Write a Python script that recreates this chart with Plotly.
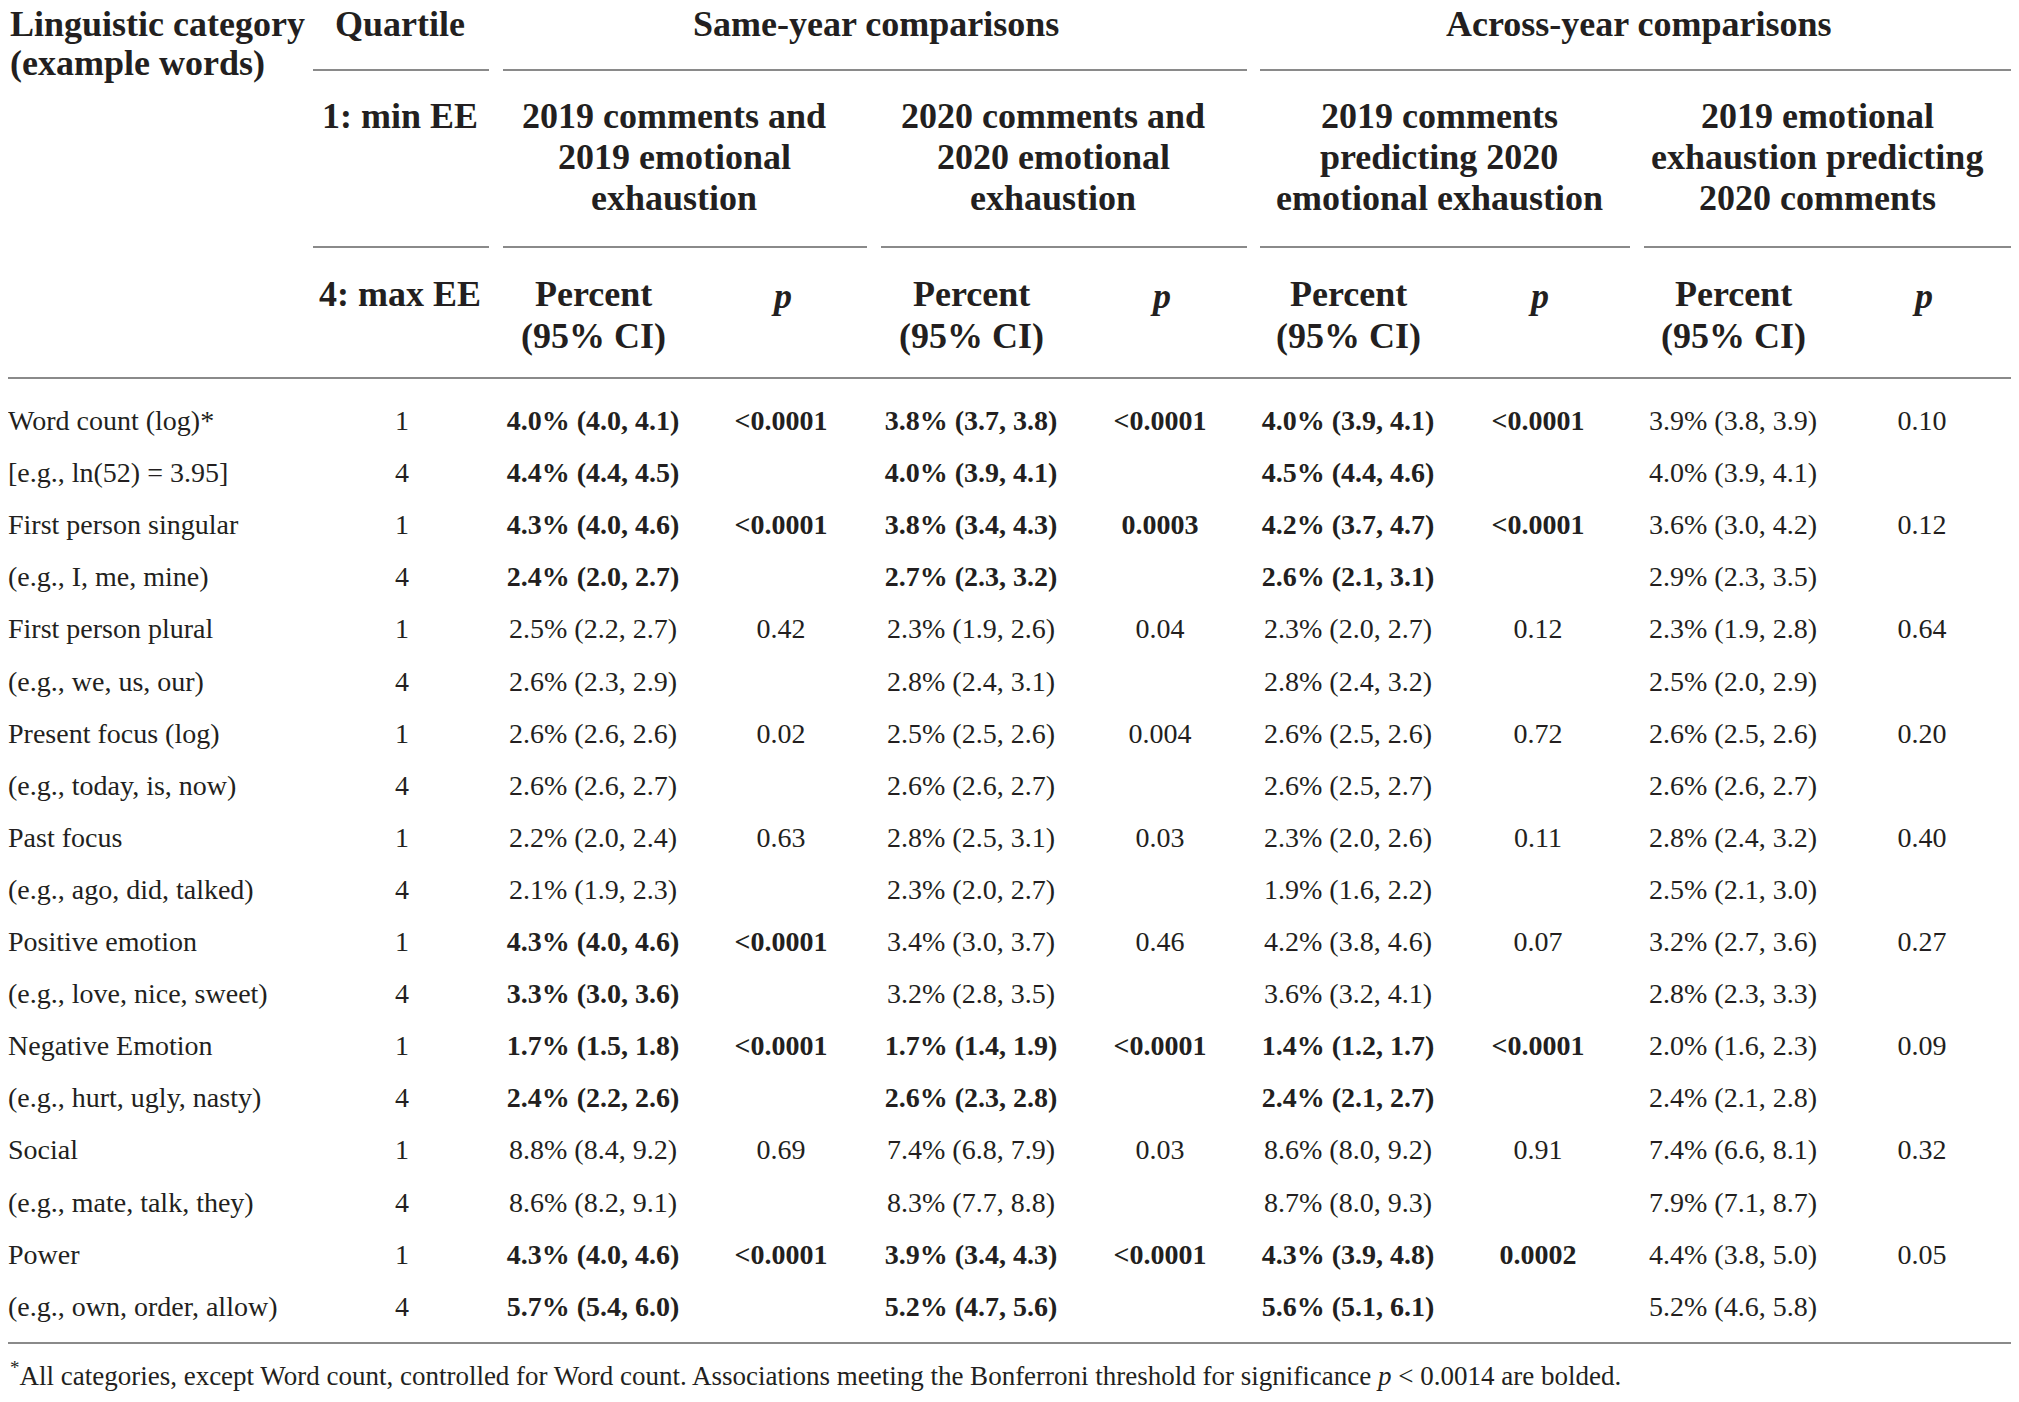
"""
Table: LIWC categories by emotional-exhaustion quartile, drawn with Plotly text traces
"""
import plotly.graph_objs as go

# ---- data --------------------------------------------------------------
categories = ["Word count (log)*", "First person singular", "First person plural",
              "Present focus (log)", "Past focus", "Positive emotion",
              "Negative Emotion", "Social", "Power"]
examples = ["[e.g., ln(52) = 3.95]", "(e.g., I, me, mine)", "(e.g., we, us, our)",
            "(e.g., today, is, now)", "(e.g., ago, did, talked)", "(e.g., love, nice, sweet)",
            "(e.g., hurt, ugly, nasty)", "(e.g., mate, talk, they)", "(e.g., own, order, allow)"]
quartiles = [1, 4]

# same-year: 2019 comments and 2019 emotional exhaustion
sy19_q1 = [(4.0, 4.0, 4.1), (4.3, 4.0, 4.6), (2.5, 2.2, 2.7), (2.6, 2.6, 2.6), (2.2, 2.0, 2.4),
           (4.3, 4.0, 4.6), (1.7, 1.5, 1.8), (8.8, 8.4, 9.2), (4.3, 4.0, 4.6)]
sy19_q4 = [(4.4, 4.4, 4.5), (2.4, 2.0, 2.7), (2.6, 2.3, 2.9), (2.6, 2.6, 2.7), (2.1, 1.9, 2.3),
           (3.3, 3.0, 3.6), (2.4, 2.2, 2.6), (8.6, 8.2, 9.1), (5.7, 5.4, 6.0)]
sy19_p = ["<0.0001", "<0.0001", "0.42", "0.02", "0.63", "<0.0001", "<0.0001", "0.69", "<0.0001"]

# same-year: 2020 comments and 2020 emotional exhaustion
sy20_q1 = [(3.8, 3.7, 3.8), (3.8, 3.4, 4.3), (2.3, 1.9, 2.6), (2.5, 2.5, 2.6), (2.8, 2.5, 3.1),
           (3.4, 3.0, 3.7), (1.7, 1.4, 1.9), (7.4, 6.8, 7.9), (3.9, 3.4, 4.3)]
sy20_q4 = [(4.0, 3.9, 4.1), (2.7, 2.3, 3.2), (2.8, 2.4, 3.1), (2.6, 2.6, 2.7), (2.3, 2.0, 2.7),
           (3.2, 2.8, 3.5), (2.6, 2.3, 2.8), (8.3, 7.7, 8.8), (5.2, 4.7, 5.6)]
sy20_p = ["<0.0001", "0.0003", "0.04", "0.004", "0.03", "0.46", "<0.0001", "0.03", "<0.0001"]

# across-year: 2019 comments predicting 2020 emotional exhaustion
ayc_q1 = [(4.0, 3.9, 4.1), (4.2, 3.7, 4.7), (2.3, 2.0, 2.7), (2.6, 2.5, 2.6), (2.3, 2.0, 2.6),
          (4.2, 3.8, 4.6), (1.4, 1.2, 1.7), (8.6, 8.0, 9.2), (4.3, 3.9, 4.8)]
ayc_q4 = [(4.5, 4.4, 4.6), (2.6, 2.1, 3.1), (2.8, 2.4, 3.2), (2.6, 2.5, 2.7), (1.9, 1.6, 2.2),
          (3.6, 3.2, 4.1), (2.4, 2.1, 2.7), (8.7, 8.0, 9.3), (5.6, 5.1, 6.1)]
ayc_p = ["<0.0001", "<0.0001", "0.12", "0.72", "0.11", "0.07", "<0.0001", "0.91", "0.0002"]

# across-year: 2019 emotional exhaustion predicting 2020 comments
aye_q1 = [(3.9, 3.8, 3.9), (3.6, 3.0, 4.2), (2.3, 1.9, 2.8), (2.6, 2.5, 2.6), (2.8, 2.4, 3.2),
          (3.2, 2.7, 3.6), (2.0, 1.6, 2.3), (7.4, 6.6, 8.1), (4.4, 3.8, 5.0)]
aye_q4 = [(4.0, 3.9, 4.1), (2.9, 2.3, 3.5), (2.5, 2.0, 2.9), (2.6, 2.6, 2.7), (2.5, 2.1, 3.0),
          (2.8, 2.3, 3.3), (2.4, 2.1, 2.8), (7.9, 7.1, 8.7), (5.2, 4.6, 5.8)]
aye_p = ["0.10", "0.12", "0.64", "0.20", "0.40", "0.27", "0.09", "0.32", "0.05"]

bonferroni = 0.0014
groups = ["Same-year comparisons", "Across-year comparisons"]
subheads = [["2019 comments and", "2019 emotional", "exhaustion"],
            ["2020 comments and", "2020 emotional", "exhaustion"],
            ["2019 comments", "predicting 2020", "emotional exhaustion"],
            ["2019 emotional", "exhaustion predicting", "2020 comments"]]
footnote = ("<sup>*</sup>All categories, except Word count, controlled for Word count. "
            "Associations meeting the Bonferroni threshold for significance <i>p</i> &lt; 0.0014 are bolded.")

comparisons = [(sy19_q1, sy19_q4, sy19_p), (sy20_q1, sy20_q4, sy20_p),
               (ayc_q1, ayc_q4, ayc_p), (aye_q1, aye_q4, aye_p)]

# ---- layout constants ---------------------------------------------------
FONT = "Liberation Serif"
INK = "#231f20"
RULE = "#8a8a8a"
BODY = 28
HEAD = 36
LEFT = 8
ROW0, ROW_H = 423, 52.1
pct_x = [593, 971, 1348, 1733]
p_x = [781, 1160, 1538, 1922]
sub_x = [674, 1053, 1439, 1817]


def fmt(v):
    return "%.1f%% (%.1f, %.1f)" % v


def is_sig(p):
    return float(p.replace("<", "")) < bonferroni


def bold(s, on):
    s = s.replace("<", "&lt;")
    return "<b>%s</b>" % s if on else s


n_rows = 2 * len(categories)
row_y = [ROW0 + i * ROW_H for i in range(n_rows)]

fig = go.Figure()


def add_col(x, texts, ys, pos="middle center", size=BODY):
    fig.add_trace(go.Scatter(x=[x] * len(texts), y=ys, mode="text", text=texts,
                             textposition=pos, hoverinfo="skip", showlegend=False,
                             cliponaxis=False,
                             textfont=dict(family=FONT, size=size, color=INK)))


labels = []
for c, e in zip(categories, examples):
    labels += [c, e]
add_col(LEFT, labels, row_y, pos="middle right")
add_col(402, [str(q) for _ in categories for q in quartiles], row_y)

for k, (q1, q4, ps) in enumerate(comparisons):
    pct_txt, p_txt = [], []
    for a, b, p in zip(q1, q4, ps):
        sig = is_sig(p)
        pct_txt += [bold(fmt(a), sig), bold(fmt(b), sig)]
        p_txt.append(bold(p, sig))
    add_col(pct_x[k], pct_txt, row_y)
    add_col(p_x[k], p_txt, row_y[::2])


def note(x, y, text, size=HEAD, anchor="center"):
    fig.add_annotation(x=x, y=y, xref="x", yref="y", text=text, showarrow=False,
                       xanchor=anchor, yanchor="middle",
                       font=dict(family=FONT, size=size, color=INK))


# header text
note(LEFT, 24, "<b>Linguistic category</b>", anchor="left")
note(LEFT, 63, "<b>(example words)</b>", anchor="left")
note(400, 24, "<b>Quartile</b>")
note(876, 24, "<b>%s</b>" % groups[0])
note(1639, 24, "<b>%s</b>" % groups[1])
note(400, 116, "<b>1: min EE</b>")
note(400, 294, "<b>4: max EE</b>")
for k in range(4):
    for j, line in enumerate(subheads[k]):
        note(sub_x[k], 116 + 41 * j, "<b>%s</b>" % line)
    note(pct_x[k], 294, "<b>Percent</b>")
    note(pct_x[k], 336, "<b>(95% CI)</b>")
    note(p_x[k], 296, "<b><i>p</i></b>")
note(LEFT, 1374, footnote, size=27, anchor="left")

# rules
rules = [(70, 313, 489), (70, 503, 1247), (70, 1260, 2011),
         (247, 313, 489), (247, 503, 867), (247, 881, 1247), (247, 1260, 1630), (247, 1644, 2011),
         (378, 8, 2011), (1343, 8, 2011)]
for y, x0, x1 in rules:
    fig.add_shape(type="line", x0=x0, x1=x1, y0=y, y1=y, xref="x", yref="y",
                  line=dict(color=RULE, width=2))

fig.update_layout(width=2003, height=1386, margin=dict(l=0, r=0, t=0, b=0),
                  plot_bgcolor="white", paper_bgcolor="white",
                  xaxis=dict(range=[8, 2011], visible=False, fixedrange=True),
                  yaxis=dict(range=[1394, 8], visible=False, fixedrange=True))
fig.write_html("out.html")
